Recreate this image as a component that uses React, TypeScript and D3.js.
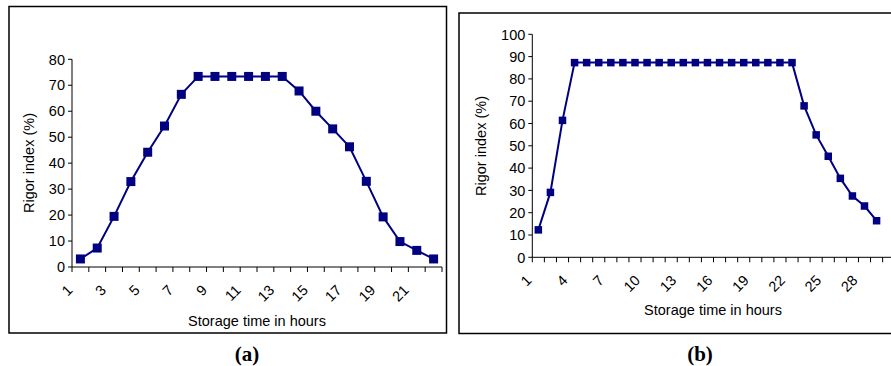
import * as d3 from "d3";

// panel (a): 22 hourly readings
const hoursA = ["1","2","3","4","5","6","7","8","9","10","11","12","13","14","15","16","17","18","19","20","21","22"];
const rigorA = [3.1, 7.3, 19.5, 32.9, 44.2, 54.3, 66.5, 73.4, 73.4, 73.4, 73.4, 73.4, 73.4, 67.8, 60, 53.2, 46.3, 33, 19.3, 9.8, 6.4, 3.1];
const tickLabelsA = ["1","3","5","7","9","11","13","15","17","19","21"];
const yTicksA = [0, 10, 20, 30, 40, 50, 60, 70, 80];

// panel (b): 29 readings, axis has one more empty slot (cut off at the edge)
const hoursB = ["1","2","3","4","5","6","7","8","9","10","11","12","13","14","15","16","17","18","19","20","21","22","23","24","25","26","27","28","29","30"];
const rigorB = [12.3, 29.1, 61.4, 87.3, 87.3, 87.3, 87.3, 87.3, 87.3, 87.3, 87.3, 87.3, 87.3, 87.3, 87.3, 87.3, 87.3, 87.3, 87.3, 87.3, 87.3, 87.3, 67.9, 54.9, 45.3, 35.4, 27.5, 23, 16.4];
const tickLabelsB = ["1","4","7","10","13","16","19","22","25","28"];
const yTicksB = [0, 10, 20, 30, 40, 50, 60, 70, 80, 90, 100];

const NAVY = "#000080";
const FONT = "'Liberation Sans', Arial, sans-serif";

type PanelProps = {
  cats: string[];
  values: number[];
  labels: string[];
  yTicks: number[];
  x0: number;
  x1: number;
  yTop: number;
  yBottom: number;
  marker: number;
  labelDx: number;
  yTitleX: number;
  yTitleY: number;
  xTitleX: number;
  xTitleY: number;
};

function Panel(p: PanelProps) {
  const x = d3.scaleBand<string>().domain(p.cats).range([p.x0, p.x1]).padding(0);
  const y = d3
    .scaleLinear()
    .domain([0, p.yTicks[p.yTicks.length - 1]])
    .range([p.yBottom, p.yTop]);
  const cx = (c: string) => (x(c) as number) + x.bandwidth() / 2;
  const pts = p.values.map((v, i) => ({ c: p.cats[i], v }));
  const line = d3
    .line<{ c: string; v: number }>()
    .x((d) => cx(d.c))
    .y((d) => y(d.v));
  const bounds = p.cats.map((c) => x(c) as number).concat([p.x1]);

  return (
    <g fontFamily={FONT} fill="#000">
      {/* y axis */}
      <line x1={p.x0} x2={p.x0} y1={p.yTop} y2={p.yBottom} stroke="#000" />
      {p.yTicks.map((t) => (
        <g key={t}>
          <line x1={p.x0 - 4} x2={p.x0} y1={y(t)} y2={y(t)} stroke="#000" />
          <text x={p.x0 - 7} y={y(t)} dy="0.36em" textAnchor="end" fontSize={14.5}>
            {t}
          </text>
        </g>
      ))}
      {/* x axis */}
      <line x1={p.x0} x2={p.x1} y1={p.yBottom} y2={p.yBottom} stroke="#000" />
      {bounds.map((b, i) => (
        <line key={i} x1={b} x2={b} y1={p.yBottom} y2={p.yBottom + 5} stroke="#000" />
      ))}
      {p.labels.map((l) => (
        <text
          key={l}
          textAnchor="end"
          fontSize={14.5}
          transform={`translate(${cx(l) + p.labelDx},${p.yBottom + 24}) rotate(-45)`}
        >
          {l}
        </text>
      ))}
      <path d={line(pts) || ""} fill="none" stroke={NAVY} strokeWidth={2} />
      {pts.map((d) => (
        <rect
          key={d.c}
          x={cx(d.c) - p.marker / 2}
          y={y(d.v) - p.marker / 2}
          width={p.marker}
          height={p.marker}
          fill={NAVY}
        />
      ))}
      <text
        textAnchor="middle"
        fontSize={14.5}
        transform={`translate(${p.yTitleX},${p.yTitleY}) rotate(-90)`}
      >
        Rigor index (%)
      </text>
      <text x={p.xTitleX} y={p.xTitleY} textAnchor="middle" fontSize={14.5}>
        Storage time in hours
      </text>
    </g>
  );
}

export default function App() {
  return (
    <svg
      width={891}
      height={366}
      style={{ position: "absolute", left: 0, top: 0, background: "#fff" }}
    >
      <rect x={9} y={6.5} width={437.5} height={326.5} fill="none" stroke="#000" strokeWidth={1.5} />
      <rect x={459} y={13} width={460} height={320.5} fill="none" stroke="#000" strokeWidth={1.5} />
      <Panel
        cats={hoursA}
        values={rigorA}
        labels={tickLabelsA}
        yTicks={yTicksA}
        x0={72}
        x1={442}
        yTop={59.3}
        yBottom={267}
        marker={9}
        labelDx={-7}
        yTitleX={34}
        yTitleY={163}
        xTitleX={257}
        xTitleY={326}
      />
      <Panel
        cats={hoursB}
        values={rigorB}
        labels={tickLabelsB}
        yTicks={yTicksB}
        x0={532.3}
        x1={894.7}
        yTop={34.3}
        yBottom={257.3}
        marker={7.5}
        labelDx={-6}
        yTitleX={486}
        yTitleY={146}
        xTitleX={713}
        xTitleY={315}
      />
      <text x={247} y={361} textAnchor="middle" fontFamily="'Liberation Serif', 'Times New Roman', serif" fontWeight="bold" fontSize={21}>
        (a)
      </text>
      <text x={700} y={361} textAnchor="middle" fontFamily="'Liberation Serif', 'Times New Roman', serif" fontWeight="bold" fontSize={21}>
        (b)
      </text>
    </svg>
  );
}
